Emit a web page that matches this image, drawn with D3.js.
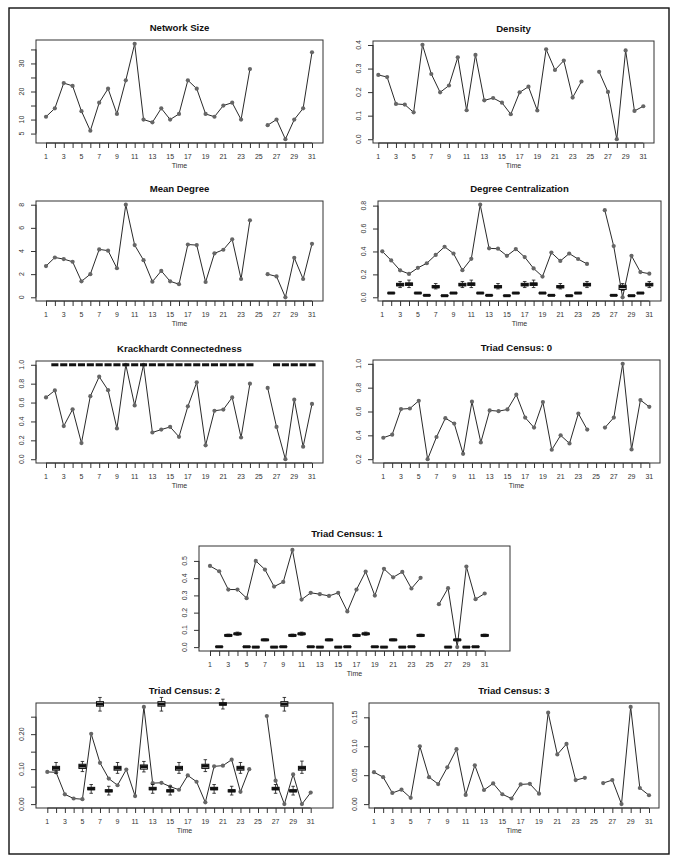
<!DOCTYPE html>
<html><head><meta charset="utf-8">
<script src="https://cdn.jsdelivr.net/npm/d3@7"></script>
<style>
body{margin:0;background:#fff}
text{font-family:"Liberation Sans",Arial,Helvetica,sans-serif}
</style>
</head><body>
<svg id="chart" width="679" height="865"></svg>
<script>
// ---------------- DATA ----------------
const times = [1,2,3,4,5,6,7,8,9,10,11,12,13,14,15,16,17,18,19,20,21,22,23,24,25,26,27,28,29,30,31];
const timeLabels = [1,3,5,7,9,11,13,15,17,19,21,23,25,27,29,31];

const networkSize = [11,14,23,22,13,6,16,21,12,24,37,10,9,14,10,12,24,21,12,11,15,16,10,28,null,8,10,3,10,14,34];
const density = [0.273,0.264,0.150,0.147,0.114,0.401,0.277,0.199,0.228,0.348,0.123,0.358,0.165,0.175,0.155,0.106,0.199,0.223,0.122,0.382,0.294,0.334,0.177,0.245,null,0.286,0.201,0,0.377,0.120,0.140];
const meanDegree = [2.70,3.44,3.30,3.07,1.38,2.00,4.14,4.03,2.51,8.00,4.51,3.21,1.35,2.28,1.38,1.13,4.56,4.51,1.32,3.80,4.11,5.01,1.58,6.65,null,2.00,1.80,0,3.41,1.58,4.62];
const degreeCent = [0.401,0.322,0.235,0.204,0.257,0.297,0.370,0.441,0.382,0.237,0.336,0.808,0.427,0.424,0.362,0.421,0.351,0.252,0.181,0.390,0.317,0.382,0.334,0.291,null,0.760,0.447,0,0.362,0.220,0.206];
const krackhardt = [0.654,0.728,0.351,0.528,0.171,0.668,0.874,0.731,0.326,1.0,0.570,1.0,0.283,0.314,0.342,0.237,0.560,0.814,0.147,0.513,0.526,0.654,0.230,0.800,null,0.755,0.342,0,0.630,0.133,0.585];
const triad0 = [0.380,0.406,0.620,0.625,0.690,0.200,0.386,0.544,0.499,0.245,0.682,0.341,0.609,0.603,0.617,0.741,0.549,0.465,0.679,0.279,0.400,0.332,0.583,0.448,null,0.465,0.549,1.0,0.282,0.696,0.639];
const triad1 = [0.471,0.440,0.334,0.334,0.284,0.500,0.450,0.351,0.378,0.564,0.276,0.315,0.307,0.297,0.315,0.207,0.334,0.438,0.299,0.454,0.405,0.436,0.340,0.402,null,0.249,0.342,0,0.467,0.278,0.311];
const triad2 = [0.092,0.091,0.028,0.016,0.014,0.201,0.118,0.073,0.054,0.099,0.023,0.278,0.060,0.061,0.050,0.041,0.082,0.064,0.005,0.108,0.110,0.127,0.035,0.100,null,0.252,0.067,0,0.085,0,0.033];
const triad3 = [0.0551,0.0466,0.0193,0.025,0.0108,0.100,0.0466,0.0347,0.0636,0.0949,0.0159,0.067,0.0244,0.0358,0.017,0.0097,0.034,0.035,0.018,0.158,0.0858,0.104,0.0415,0.0455,null,0.0364,0.0415,0,0.168,0.0278,0.0153];

// simulated (CUG) boxplots: median, q1, q3, lower whisker, upper whisker
const dcBoxMed = [null,.037,.110,.115,.037,.017,.092,.014,.037,.110,.115,.037,.017,.092,.014,.037,.110,.115,.037,.017,.092,.014,.037,.110,null,null,.017,.092,.014,.037,.110];
const dcBoxQ1  = [null,.035,.100,.104,.035,.016,.083,.013,.035,.100,.104,.035,.016,.083,.013,.035,.100,.104,.035,.016,.083,.013,.035,.100,null,null,.016,.068,.013,.035,.100];
const dcBoxQ3  = [null,.039,.122,.125,.039,.018,.102,.015,.039,.122,.125,.039,.018,.102,.015,.039,.122,.125,.039,.018,.102,.015,.039,.122,null,null,.018,.105,.015,.039,.122];
const dcBoxLo  = [null,.035,.085,.085,.035,.016,.073,.013,.035,.085,.085,.035,.016,.073,.013,.035,.085,.085,.035,.016,.073,.013,.035,.085,null,null,.016,.060,.013,.035,.085];
const dcBoxHi  = [null,.039,.138,.150,.039,.018,.120,.015,.039,.138,.150,.039,.018,.120,.015,.039,.138,.150,.039,.018,.120,.015,.039,.138,null,null,.018,.120,.015,.039,.138];

const krBoxMed = [null,1,1,1,1,1,1,1,1,1,1,1,1,1,1,1,1,1,1,1,1,1,1,1,null,null,1,1,1,1,1];

const t1BoxMed = [null,.002,.068,.077,.002,0,.042,0,.002,.068,.077,.002,0,.042,0,.002,.068,.077,.002,0,.042,0,.002,.068,null,null,0,.042,0,.002,.068];
const t1BoxQ1  = [null,.001,.064,.073,.001,0,.039,0,.001,.064,.073,.001,0,.039,0,.001,.064,.073,.001,0,.039,0,.001,.064,null,null,0,.039,0,.001,.064];
const t1BoxQ3  = [null,.003,.072,.081,.003,.001,.045,.001,.003,.072,.081,.003,.001,.045,.001,.003,.072,.081,.003,.001,.045,.001,.003,.072,null,null,.001,.045,.001,.003,.072];
const t1BoxLo  = [null,.001,.061,.069,.001,0,.037,0,.001,.061,.069,.001,0,.037,0,.001,.061,.069,.001,0,.037,0,.001,.061,null,null,0,.037,0,.001,.061];
const t1BoxHi  = [null,.003,.075,.087,.003,.001,.047,.001,.003,.075,.087,.003,.001,.047,.001,.003,.075,.087,.003,.001,.047,.001,.003,.075,null,null,.001,.047,.001,.003,.075];

const t2BoxMed = [null,.103,null,null,.109,.044,.286,.038,.103,null,null,.107,.044,.286,.038,.103,null,null,.109,.044,.286,.038,.103,null,null,null,.044,.286,.038,.103,null];
const t2BoxQ1  = [null,.097,null,null,.102,.041,.280,.035,.097,null,null,.100,.041,.280,.035,.097,null,null,.102,.041,.283,.035,.097,null,null,null,.041,.280,.035,.097,null];
const t2BoxQ3  = [null,.108,null,null,.114,.048,.293,.041,.108,null,null,.112,.048,.293,.041,.108,null,null,.114,.048,.290,.041,.108,null,null,null,.048,.293,.041,.108,null];
const t2BoxLo  = [null,.088,null,null,.093,.031,.266,.026,.088,null,null,.092,.031,.266,.026,.088,null,null,.093,.031,.272,.026,.088,null,null,null,.031,.266,.026,.088,null];
const t2BoxHi  = [null,.119,null,null,.122,.056,.305,.051,.119,null,null,.122,.056,.305,.051,.119,null,null,.127,.056,.300,.051,.119,null,null,null,.056,.305,.051,.123,null];

// y tick values / labels
const nsTicks = [5,10,15,20,25,30,35], nsLabels = ["5","10","","20","","30",""];
const densTicks = [0,0.1,0.2,0.3,0.4], densLabels = ["0.0","0.1","0.2","0.3","0.4"];
const mdTicks = [0,2,4,6,8], mdLabels = ["0","2","4","6","8"];
const dcTicks = [0,0.2,0.4,0.6,0.8], dcLabels = ["0.0","0.2","0.4","0.6","0.8"];
const krTicks = [0,0.2,0.4,0.6,0.8,1.0], krLabels = ["0.0","0.2","0.4","0.6","0.8","1.0"];
const t0Ticks = [0.2,0.4,0.6,0.8,1.0], t0Labels = ["0.2","0.4","0.6","0.8","1.0"];
const t1Ticks = [0,0.1,0.2,0.3,0.4,0.5], t1Labels = ["0.0","0.1","0.2","0.3","0.4","0.5"];
const t2Ticks = [0,0.05,0.1,0.15,0.2,0.25], t2Labels = ["0.00","","0.10","","0.20",""];
const t3Ticks = [0,0.05,0.1,0.15], t3Labels = ["0.00","0.05","0.10","0.15"];

// ---------------- DRAW ----------------
const svg = d3.select("#chart");
svg.append("rect").attr("x",9).attr("y",8).attr("width",660).attr("height",846)
  .attr("fill","none").attr("stroke","#111").attr("stroke-width",1.4);

const AX = "#333", TXT = "#333";

function panel(o) {
  const g = svg.append("g");
  const x = d3.scaleLinear().domain([1,31]).range([o.tx1, o.tx31]);
  const vals = o.values.filter(v => v != null);
  const lo = d3.min(vals), hi = d3.max(vals), pad = (hi - lo) * 0.04;
  const y = d3.scaleLinear().domain([lo - pad, hi + pad]).range([o.y1, o.y0]);

  // title
  g.append("text").attr("x", o.titleX != null ? o.titleX : (o.x0 + o.x1) / 2).attr("y", o.y0 - 9)
    .attr("text-anchor","middle").attr("font-size", 9.6).attr("font-weight","bold").attr("fill","#111").text(o.title);

  // x axis
  const xa = g.append("g").attr("transform", `translate(0,${o.y1})`)
    .call(d3.axisBottom(x).tickValues(times).tickSize(5).tickFormat(""));
  xa.select(".domain").attr("stroke", AX).attr("d", `M${o.tx1},0H${o.tx31}`);
  xa.selectAll(".tick line").attr("stroke", AX);
  g.append("g").selectAll("text").data(timeLabels).join("text")
    .attr("x", d => x(d)).attr("y", o.y1 + 16).attr("text-anchor","middle")
    .attr("font-size", 7).attr("fill", TXT).text(d => d);
  g.append("text").attr("x", (o.x0 + o.x1) / 2).attr("y", o.y1 + 25).attr("text-anchor","middle")
    .attr("font-size", 7).attr("fill", TXT).text("Time");

  // y axis
  const ya = g.append("g").attr("transform", `translate(${o.x0},0)`)
    .call(d3.axisLeft(y).tickValues(o.yTicks).tickSize(5).tickFormat(""));
  ya.select(".domain").attr("stroke", AX)
    .attr("d", `M0,${y(o.yTicks[0])}V${y(o.yTicks[o.yTicks.length-1])}`);
  ya.selectAll(".tick line").attr("stroke", AX);
  g.append("g").selectAll("text").data(o.yTicks).join("text")
    .attr("transform", d => `translate(${o.x0 - 12.5},${y(d)}) rotate(-90)`)
    .attr("text-anchor","middle").attr("font-size", 7).attr("fill", TXT)
    .text((d, i) => o.yLabels[i]);

  // plot frame
  g.append("rect").attr("x", o.x0).attr("y", o.y0).attr("width", o.x1 - o.x0).attr("height", o.y1 - o.y0)
    .attr("fill","none").attr("stroke", AX).attr("stroke-width", 1);

  // series
  const data = times.map((t, i) => ({t, v: o.values[i]}));
  const line = d3.line().defined(d => d.v != null).x(d => x(d.t)).y(d => y(d.v));
  g.append("path").datum(data).attr("d", line).attr("fill","none").attr("stroke","#2a2a2a").attr("stroke-width",1);
  g.append("g").selectAll("circle").data(data.filter(d => d.v != null)).join("circle")
    .attr("cx", d => x(d.t)).attr("cy", d => y(d.v)).attr("r", 2.1).attr("fill","#666");

  // boxplots
  if (o.box) {
    const b = o.box;
    const w = 0.8 * (x(2) - x(1));
    const bd = times.map((t, i) => ({
      t, med: b.med[i],
      q1: b.q1 ? b.q1[i] : b.med[i], q3: b.q3 ? b.q3[i] : b.med[i],
      lo: b.lo ? b.lo[i] : b.med[i], hi: b.hi ? b.hi[i] : b.med[i]
    })).filter(d => d.med != null);
    const bg = g.append("g").selectAll("g").data(bd).join("g");
    bg.append("line").attr("x1", d => x(d.t)).attr("x2", d => x(d.t))
      .attr("y1", d => y(d.hi)).attr("y2", d => y(d.lo)).attr("stroke","#111").attr("stroke-width",0.8);
    bg.append("line").attr("x1", d => x(d.t) - w/4).attr("x2", d => x(d.t) + w/4)
      .attr("y1", d => y(d.hi)).attr("y2", d => y(d.hi)).attr("stroke","#111").attr("stroke-width",0.8)
      .attr("display", d => d.hi > d.q3 ? null : "none");
    bg.append("line").attr("x1", d => x(d.t) - w/4).attr("x2", d => x(d.t) + w/4)
      .attr("y1", d => y(d.lo)).attr("y2", d => y(d.lo)).attr("stroke","#111").attr("stroke-width",0.8)
      .attr("display", d => d.lo < d.q1 ? null : "none");
    bg.append("rect").attr("x", d => x(d.t) - w/2).attr("width", w)
      .attr("y", d => y(d.q3)).attr("height", d => Math.max(0, y(d.q1) - y(d.q3)))
      .attr("fill","#fff").attr("stroke","#111").attr("stroke-width",1);
    bg.append("line").attr("x1", d => x(d.t) - w/2).attr("x2", d => x(d.t) + w/2)
      .attr("y1", d => y(d.med)).attr("y2", d => y(d.med)).attr("stroke","#111").attr("stroke-width",3);
  }
}

panel({title:"Network Size", values:networkSize, x0:36, x1:323, tx1:46, tx31:312, y0:40, y1:143, yTicks:nsTicks, yLabels:nsLabels});
panel({title:"Density", values:density, x0:373, x1:654, tx1:378.3, tx31:643.3, y0:41, y1:143, yTicks:densTicks, yLabels:densLabels});
panel({title:"Mean Degree", values:meanDegree, x0:36, x1:323, tx1:46, tx31:312, y0:201, y1:301, yTicks:mdTicks, yLabels:mdLabels});
panel({title:"Degree Centralization", values:degreeCent, x0:378, x1:661, tx1:382.3, tx31:649.3, y0:201, y1:301, yTicks:dcTicks, yLabels:dcLabels,
  box:{med:dcBoxMed, q1:dcBoxQ1, q3:dcBoxQ3, lo:dcBoxLo, hi:dcBoxHi}});
panel({title:"Krackhardt Connectedness", values:krackhardt, x0:36, x1:323, tx1:46, tx31:312, y0:361, y1:463, yTicks:krTicks, yLabels:krLabels,
  box:{med:krBoxMed}});
panel({title:"Triad Census: 0", values:triad0, x0:373, x1:660, tx1:383.3, tx31:649.3, y0:360, y1:463, yTicks:t0Ticks, yLabels:t0Labels});
panel({title:"Triad Census: 1", values:triad1, x0:199, x1:510, tx1:210, tx31:484.7, y0:546, y1:651, yTicks:t1Ticks, yLabels:t1Labels, titleX:347,
  box:{med:t1BoxMed, q1:t1BoxQ1, q3:t1BoxQ3, lo:t1BoxLo, hi:t1BoxHi}});
panel({title:"Triad Census: 2", values:triad2, x0:36, x1:333, tx1:47.3, tx31:310.7, y0:703, y1:808, yTicks:t2Ticks, yLabels:t2Labels,
  box:{med:t2BoxMed, q1:t2BoxQ1, q3:t2BoxQ3, lo:t2BoxLo, hi:t2BoxHi}});
panel({title:"Triad Census: 3", values:triad3, x0:369, x1:659, tx1:374, tx31:649, y0:703, y1:808, yTicks:t3Ticks, yLabels:t3Labels});
</script>
</body></html>
